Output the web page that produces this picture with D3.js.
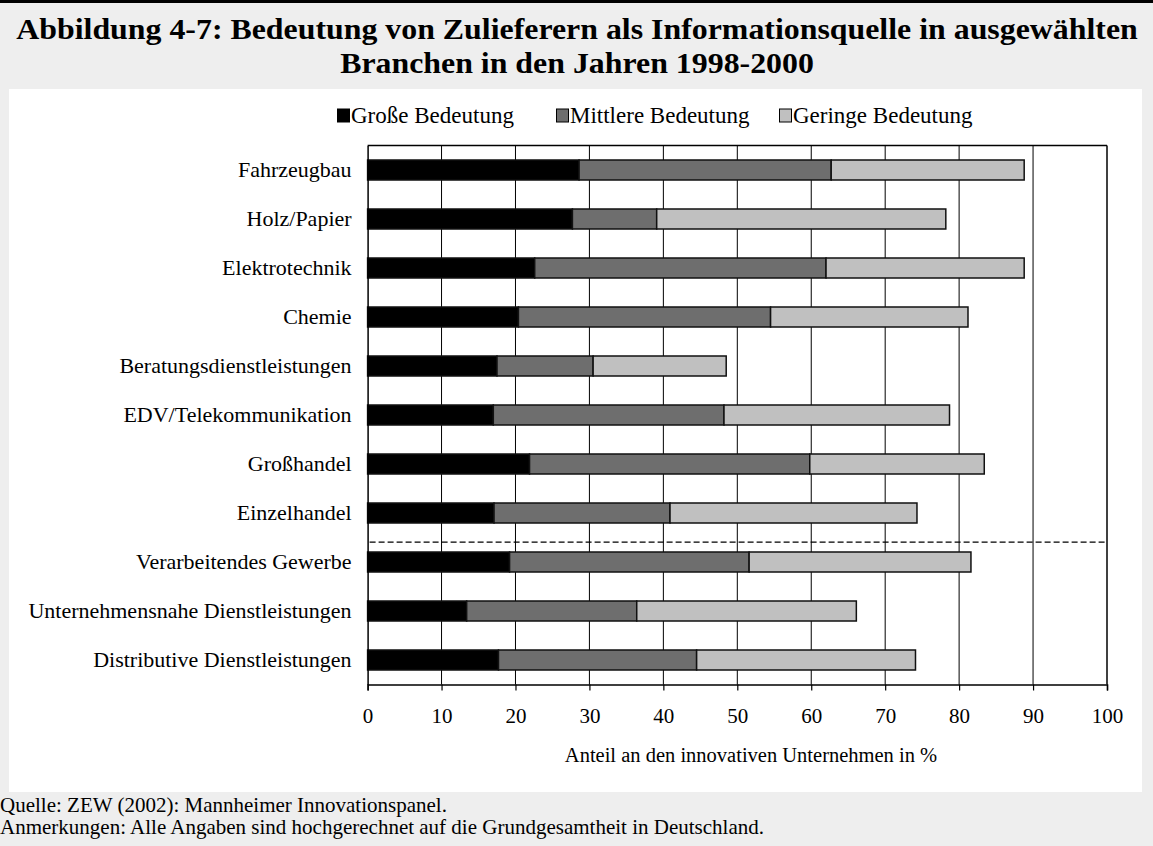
<!DOCTYPE html>
<html>
<head>
<meta charset="utf-8">
<script src="https://cdn.jsdelivr.net/npm/d3@7"></script>
<style>
  html, body { margin: 0; padding: 0; background: #eeeeee; }
  svg { display: block; }
  text { font-family: "Liberation Serif", "Times New Roman", serif; fill: #000; }
</style>
</head>
<body>
<div id="chart"></div>
<script>
// Branches, top to bottom
const categories = [
  "Fahrzeugbau",
  "Holz/Papier",
  "Elektrotechnik",
  "Chemie",
  "Beratungsdienstleistungen",
  "EDV/Telekommunikation",
  "Großhandel",
  "Einzelhandel",
  "Verarbeitendes Gewerbe",
  "Unternehmensnahe Dienstleistungen",
  "Distributive Dienstleistungen"
];

// Share of innovative firms (%) per importance level
const grosse   = [28.6, 27.7, 22.6, 20.4, 17.5, 17.0, 21.9, 17.1, 19.2, 13.4, 17.7];
const mittlere = [34.1, 11.4, 39.4, 34.1, 13.0, 31.2, 37.9, 23.8, 32.4, 23.0, 26.8];
const geringe  = [26.1, 39.1, 26.8, 26.7, 18.0, 30.5, 23.6, 33.4, 30.0, 29.7, 29.6];

const seriesNames = ["Große Bedeutung", "Mittlere Bedeutung", "Geringe Bedeutung"];
const seriesColors = ["#000000", "#6e6e6e", "#c0c0c0"];

const xTicks = [0, 10, 20, 30, 40, 50, 60, 70, 80, 90, 100];

// Aggregates start here; a dashed separator is drawn above it
const separatorBefore = "Verarbeitendes Gewerbe";

const W = 1153, H = 846;
const FONT = '"Liberation Serif", "Times New Roman", serif';
const svg = d3.select("#chart").append("svg")
  .attr("width", W).attr("height", H);

// page background and top rule
svg.append("rect").attr("width", W).attr("height", H).attr("fill", "#eeeeee");
svg.append("rect").attr("x", 0).attr("y", 0).attr("width", W).attr("height", 3).attr("fill", "#000");

// title, slightly widened
const title = svg.append("text")
  .attr("transform", "translate(577,0) scale(1.062,1)")
  .attr("text-anchor", "middle")
  .style("font-weight", "bold")
  .style("font-size", "30px");
title.append("tspan").attr("x", 0).attr("y", 39)
  .text("Abbildung 4-7: Bedeutung von Zulieferern als Informationsquelle in ausgewählten");
title.append("tspan").attr("x", 0).attr("y", 73)
  .text("Branchen in den Jahren 1998-2000");

// white chart panel
svg.append("rect").attr("x", 9).attr("y", 89).attr("width", 1133).attr("height", 703).attr("fill", "#fff");

// plot area
const plot = { left: 367.6, right: 1107, top: 145.5, bottom: 684.5 };

const x = d3.scaleLinear().domain([0, 100]).range([plot.left, plot.right]);
const y = d3.scaleBand().domain(categories).range([plot.top, plot.bottom])
  .paddingInner(29 / 49).paddingOuter(29 / 98);

const g = svg.append("g");

// vertical gridlines
g.append("g").selectAll("line")
  .data(xTicks.filter(t => t > 0 && t < 100))
  .join("line")
  .attr("x1", d => x(d)).attr("x2", d => x(d))
  .attr("y1", plot.top).attr("y2", plot.bottom)
  .attr("stroke", "#000").attr("stroke-width", 1);

// stacked bars
const rows = categories.map((c, i) => ({ cat: c, vals: [grosse[i], mittlere[i], geringe[i]] }));
const stack = d3.stack().keys([0, 1, 2]).value((d, k) => d.vals[k]);
const layers = stack(rows);

g.append("g").selectAll("g")
  .data(layers)
  .join("g")
  .attr("fill", (d, i) => seriesColors[i])
  .selectAll("rect")
  .data(d => d)
  .join("rect")
  .attr("x", d => x(d[0]))
  .attr("width", d => x(d[1]) - x(d[0]))
  .attr("y", d => y(d.data.cat))
  .attr("height", y.bandwidth())
  .attr("stroke", "#111")
  .attr("stroke-width", 1.5);

// dashed separator between individual branches and aggregates
const sepY = y(separatorBefore) - y.step() * 0.2;
g.append("line")
  .attr("x1", x(0) + 2).attr("x2", x(100))
  .attr("y1", sepY).attr("y2", sepY)
  .attr("stroke", "#000").attr("stroke-width", 1.3)
  .attr("stroke-dasharray", "6,3");

// plot frame (top and right)
g.append("line").attr("x1", plot.left).attr("x2", plot.right)
  .attr("y1", plot.top).attr("y2", plot.top).attr("stroke", "#000").attr("stroke-width", 1.5);
g.append("line").attr("x1", plot.right).attr("x2", plot.right)
  .attr("y1", plot.top).attr("y2", plot.bottom).attr("stroke", "#000").attr("stroke-width", 1.5);

// x axis
const xAxis = d3.axisBottom(x).tickValues(xTicks).tickSize(6).tickPadding(18);
const ax = svg.append("g").attr("transform", `translate(0,${plot.bottom})`).call(xAxis);
ax.select(".domain").attr("stroke", "#000").attr("stroke-width", 1.5);
ax.selectAll(".tick line").attr("stroke", "#000").attr("stroke-width", 1.2);
ax.selectAll(".tick text")
  .style("font-family", FONT)
  .style("font-size", "21px").attr("fill", "#000");

// y axis
const yAxis = d3.axisLeft(y).tickSize(0).tickPadding(16);
const ay = svg.append("g").attr("transform", `translate(${plot.left},0)`).call(yAxis);
ay.select(".domain").attr("stroke", "#000").attr("stroke-width", 1.5);
ay.selectAll(".tick text")
  .style("font-family", FONT)
  .style("font-size", "22px").attr("fill", "#000");

// axis title
svg.append("text")
  .attr("x", 751).attr("y", 762)
  .attr("text-anchor", "middle")
  .style("font-size", "20.5px")
  .text("Anteil an den innovativen Unternehmen in %");

// legend
const legendX = [337, 556, 779];
const legend = svg.append("g").selectAll("g")
  .data(seriesNames)
  .join("g")
  .attr("transform", (d, i) => `translate(${legendX[i]},${116})`);
legend.append("rect")
  .attr("x", 0.5).attr("y", -7).attr("width", 12).attr("height", 13)
  .attr("fill", (d, i) => seriesColors[i])
  .attr("stroke", "#000").attr("stroke-width", 1);
legend.append("text")
  .attr("x", 14).attr("y", 7)
  .style("font-size", "23px")
  .text(d => d);

// source and notes
svg.append("text").attr("x", 0).attr("y", 812).style("font-size", "21px")
  .text("Quelle: ZEW (2002): Mannheimer Innovationspanel.");
svg.append("text").attr("x", 0).attr("y", 834).style("font-size", "21px")
  .text("Anmerkungen: Alle Angaben sind hochgerechnet auf die Grundgesamtheit in Deutschland.");
</script>
</body>
</html>
